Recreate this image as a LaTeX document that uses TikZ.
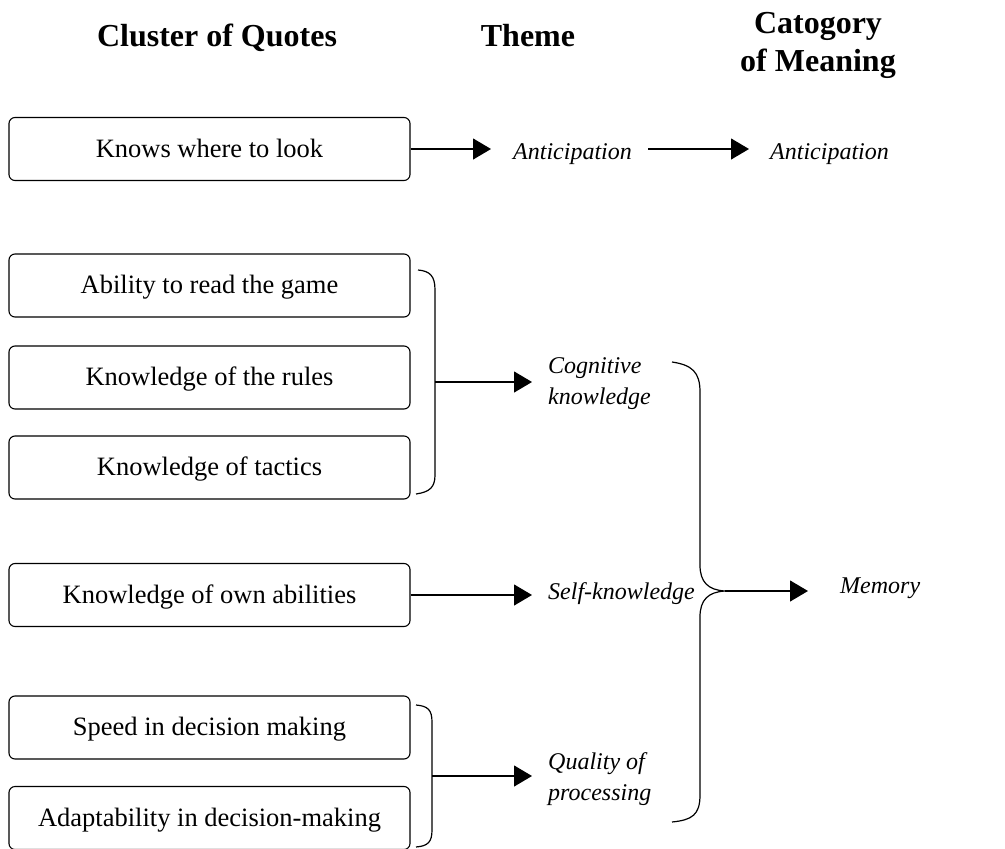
\documentclass[tikz,border=0pt]{standalone}
\usepackage{fontspec}
\setmainfont{Liberation Serif}
\usetikzlibrary{arrows.meta}
\usetikzlibrary{positioning}
\usetikzlibrary{calc}
\tikzset{
    quote box/.style = {draw, rounded corners=6pt, line width=1.1pt,
                        minimum width=401pt, minimum height=63pt,
                        text height=18pt, text depth=2pt,
                        font=\fontsize{26.5}{31}\selectfont
    },
    heading/.style = {font=\fontsize{32}{38}\selectfont\bfseries, align=center},
    theme/.style = {font=\fontsize{24}{31}\selectfont\itshape, align=left,
                    inner sep=0pt
    },
    flow arrow/.style = {line width=1.2pt, -{Triangle[length=18pt, width=21pt]}},
    brace line/.style = {line width=1.2pt},
}

\begin{document}
\begin{tikzpicture}[x=1pt, y=-1pt]
        \useasboundingbox (0,0) rectangle (1005,849);
        % headings
        \node (hquotes) [heading, anchor=base] at (217,46) {Cluster of Quotes};
        \node (htheme) [heading, anchor=base] at (528,46) {Theme};
        \node (hcat) [heading] at (818,45) {Catogory\\of Meaning};
        % quote boxes
        \node (look) [quote box] at (209.5,149) {Knows where to look};
        \node (game) [quote box] at (209.5,285.5) {Ability to read the game};
        \node (rules) [quote box] at (209.5,377.5) {Knowledge of the rules};
        \node (tactics) [quote box] at (209.5,467.5) {Knowledge of tactics};
        \node (own) [quote box] at (209.5,595) {Knowledge of own abilities};
        \node (speed) [quote box] at (209.5,727.5) {Speed in decision making};
        \node (adapt) [quote box] at (209.5,818) {Adaptability in decision-making};
        % themes and category
        \node (ant) [theme, anchor=base west] at (513,159) {Anticipation};
        \node (antcat) [theme, anchor=base west] at (770,159) {Anticipation};
        \node (cog) [theme, anchor=west] at (548,384) {Cognitive\\knowledge};
        \node (self) [theme, anchor=base west] at (548,599) {Self-knowledge};
        \node (qual) [theme, anchor=west] at (548,779) {Quality of\\processing};
        \node (mem) [theme, anchor=base west] at (840,593) {Memory};
        % braces
        \draw[brace line] (418,270) .. controls (430,271) and (435,276) .. (435,290)
            -- (435,475) .. controls (435,487) and (430,492) .. (416,494);
        \coordinate (cogbrace) at (435,382);
        \draw[brace line] (416,705) .. controls (428,706) and (432,710) .. (432,722)
            -- (432,830) .. controls (432,842) and (428,846) .. (416,847);
        \coordinate (qualbrace) at (432,776);
        \draw[brace line] (672,362) .. controls (692,365) and (700,372) .. (700,392)
            -- (700,565) .. controls (700,582) and (708,590) .. (725,591)
            .. controls (708,592) and (700,600) .. (700,617)
            -- (700,795) .. controls (700,815) and (692,820) .. (672,822);
        \coordinate (membrace) at (725,591);
        % arrows
        \draw[flow arrow, shorten >=22pt] (look.east) -- (look.east -| ant.west);
        \draw[flow arrow, shorten <=16pt, shorten >=21pt]
            (look.east -| ant.east) -- (look.east -| antcat.west);
        \draw[flow arrow, shorten >=16pt] (cogbrace) -- (cogbrace -| cog.west);
        \draw[flow arrow, shorten >=16pt] (own.east) -- (own.east -| self.west);
        \draw[flow arrow, shorten >=16pt] (qualbrace) -- (qualbrace -| qual.west);
        \draw[flow arrow, shorten >=32pt] (membrace) -- (membrace -| mem.west);
\end{tikzpicture}
\end{document}
